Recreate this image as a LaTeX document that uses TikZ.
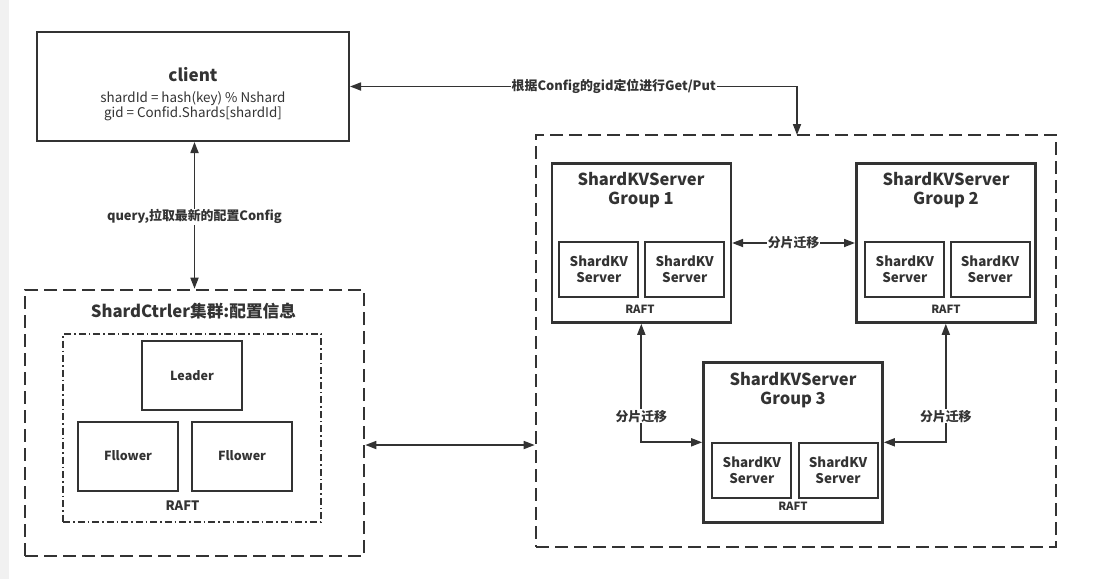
\documentclass[tikz,border=0pt]{standalone}
\usepackage{fontspec}
\setmainfont{Noto Sans CJK SC}
\usetikzlibrary{arrows.meta}
\definecolor{ink}{HTML}{333333}
\definecolor{strip}{HTML}{F1F1F1}

\begin{document}
\begin{tikzpicture}[x=1pt,y=-1pt,font=\bfseries,text=ink,
	box/.style={draw=ink,line width=2pt,inner sep=0pt},
	dashbox/.style={draw=ink,line width=2.6pt,dash pattern=on 13pt off 6pt,inner sep=0pt},
	dotbox/.style={draw=ink,line width=1.4pt,dash pattern=on 7pt off 3pt on 1.5pt off 3pt,inner sep=0pt},
	link/.style={draw=ink,line width=1.7pt,{Triangle[length=11pt,width=8pt]}-{Triangle[length=11pt,width=8pt]}},
	tag/.style={fill=white,inner sep=1pt,font=\bfseries\fontsize{12.9}{15}\selectfont},
	bigtitle/.style={align=center,inner sep=0pt,font=\bfseries\fontsize{16.5}{20}\selectfont},
	member/.style={box,minimum width=100pt,minimum height=69pt,font=\bfseries\fontsize{12.5}{15}\selectfont},
	server/.style={box,minimum width=79pt,minimum height=55pt,align=center,font=\bfseries\fontsize{13.4}{16}\selectfont},
	group/.style={draw=ink,line width=2.6pt,inner sep=0pt,minimum width=179pt,minimum height=159pt},
	raft/.style={inner sep=0pt,font=\bfseries\fontsize{11.3}{13}\selectfont}]

\useasboundingbox (0,0) rectangle (1094,579);
\fill[strip] (0,0) rectangle (9,579);

% client
\node[box,minimum width=312pt,minimum height=109pt] (client) at (193,86.5) {};
\node[inner sep=0pt,font=\bfseries\fontsize{17}{20}\selectfont] (cname) at (193,75) {client};
\node[inner sep=0pt,align=center,font=\mdseries\fontsize{13.4}{15}\selectfont] (ccode) at (193,106.5)
	{shardId = hash(key) \% Nshard\\gid = Confid.Shards[shardId]};

% shard controller cluster
\node[dashbox,minimum width=339pt,minimum height=266pt] (ctrl) at (194.5,423) {};
\node[bigtitle,font=\bfseries\fontsize{16.7}{20}\selectfont] (ctitle) at (193.5,311) {ShardCtrler集群:配置信息};
\node[dotbox,minimum width=258pt,minimum height=188pt] (craft) at (192,428) {};
\node[member] (leader) at (192,375.5) {Leader};
\node[member] (f1) at (128,456) {Fllower};
\node[member] (f2) at (242,456) {Fllower};
\node[raft,font=\bfseries\fontsize{13}{15}\selectfont] (crafttext) at (182.5,506) {RAFT};

% shardkv groups
\node[dashbox,minimum width=520pt,minimum height=412pt] (kv) at (796,341) {};

\node[group] (g1) at (641.3,243) {};
\node[group] (g2) at (945.8,243) {};
\node[group,minimum height=160pt] (g3) at (793,442.3) {};

\foreach \g/\x/\y in {g1/641/179.5, g2/946/179.5, g3/793/379.5}
{
	\node[bigtitle] (\g title) at (\x,\y) {ShardKVServer};
}
\node[bigtitle] (g1num) at (641,200) {Group 1};
\node[bigtitle] (g2num) at (946,200) {Group 2};
\node[bigtitle] (g3num) at (793,400) {Group 3};

\foreach \g/\xa/\xb/\y in {g1/598.8/684.7/269.2, g2/904.8/990/269.2, g3/751.8/838/470.2}
{
	\node[server] (\g a) at (\xa,\y) {ShardKV\\Server};
	\node[server] (\g b) at (\xb,\y) {ShardKV\\Server};
}
\node[raft] (g1raft) at (640,309.5) {RAFT};
\node[raft] (g2raft) at (946,309.5) {RAFT};
\node[raft] (g3raft) at (793,506.5) {RAFT};

% connections
\coordinate (gp) at (797,135);
\draw[link] (client.east) -| (gp) node[tag,pos=0.295] (gplabel) {根据Config的gid定位进行Get/Put};

\draw[link] (client.south -| ctrl.north) -- (ctrl.north) node[tag,pos=0.51] (qlabel) {query,拉取最新的配置Config};

\coordinate (cx) at ([yshift=-22pt]ctrl.east);
\draw[link] (cx) -- (cx -| kv.west);

\draw[link] (g1.east) -- (g2.west) node[tag,midway] (m12) {分片迁移};
\draw[link] (g1.south) |- (g3.west) node[tag,pos=0.39] (m13) {分片迁移};
\draw[link] (g2.south) |- (g3.east) node[tag,pos=0.39] (m23) {分片迁移};

\end{tikzpicture}
\end{document}
